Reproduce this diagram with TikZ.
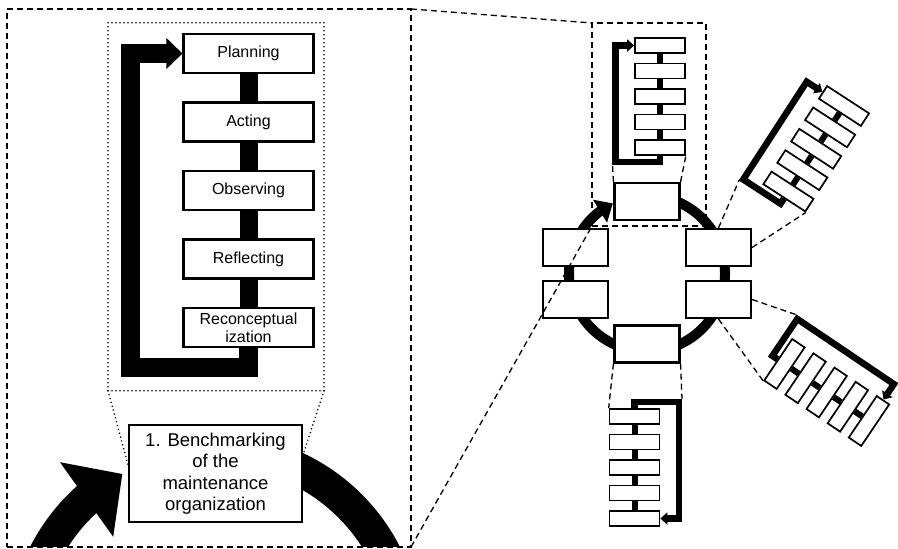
\documentclass[tikz,border=0pt]{standalone}
\usepackage{fontspec}
\setmainfont{Liberation Sans}
\usetikzlibrary{arrows.meta,bending}
\tikzset{
  stepbox/.style={draw, line width=2.1pt, fill=white, minimum width=130pt, minimum height=39pt, inner sep=0pt, align=center, font=\fontsize{16}{18}\selectfont},
  ringbox/.style={draw, line width=2.1pt, fill=white, minimum width=65pt, minimum height=37pt, inner sep=0pt},
  minibox/.style={draw, line width=1.7pt, fill=white, minimum width=50pt, minimum height=15pt, inner sep=0pt, transform shape},
  zoomline/.style={line width=1.3pt, dash pattern=on 6pt off 4pt},
  dotline/.style={line width=1.7pt, dash pattern=on 0pt off 4pt, line cap=round},
  miniflow/.pic={
    \foreach \k in {1,...,5}
      \node[minibox] (-\k) at (0,{-25.5*(\k-1)}) {};
    \foreach \k [count=\j from 2] in {1,...,4}
      \draw[line width=6pt] (-\k.south) -- (-\j.north);
    \coordinate (-fc) at (-47.5,-119.5);
    \draw[line width=6.5pt, -{Triangle[length=7pt,width=12pt]}] (-5.south) -- (0,-116.5) -- (-44.5,-116.5) -- (-44.5,0) -- (-1.west);
  }
}
\begin{document}
\begin{tikzpicture}[x=1pt, y=1pt]
\useasboundingbox (0,0) rectangle (898,549);
% left panel, the zoomed step
\node[draw, zoomline, minimum width=404pt, minimum height=538pt, inner sep=0pt, outer sep=0pt] (panel) at (209,271) {};
\coordinate (bigc) at (215,-92);
\begin{scope}
\clip (7,2) rectangle (411,540);
\draw[line width=33pt] (bigc) ++(90:191) arc[start angle=90, end angle=10, radius=191];
\draw[line width=33pt, -{Triangle[length=44pt,width=89pt]}] (bigc) ++(170:191) arc[start angle=170, end angle=119, radius=191];
\end{scope}
\node[draw, line width=2.1pt, fill=white, minimum width=173pt, minimum height=97pt, inner sep=0pt, align=center, font=\fontsize{18.5}{21.5}\selectfont] (bench) at (215.5,75.5) {1. Benchmarking\\of the\\maintenance\\organization};
\node[draw, dotline, minimum width=216pt, minimum height=368pt, inner sep=0pt, outer sep=0pt] (zoomin) at (216,342.2) {};
\draw[dotline] (zoomin.south west) -- (bench.174);
\draw[dotline] (zoomin.south east) -- (bench.12);
\node[stepbox] (s1) at (248.5,495.5) {Planning};
\node[stepbox] (s2) at (248.5,427) {Acting};
\node[stepbox] (s3) at (248.5,358.5) {Observing};
\node[stepbox] (s4) at (248.5,290) {Reflecting};
\node[stepbox] (s5) at (248.5,221.5) {Reconceptual\\ization};
\draw[line width=18pt] (s1.south) -- (s2.north);
\draw[line width=18pt] (s2.south) -- (s3.north);
\draw[line width=18pt] (s3.south) -- (s4.north);
\draw[line width=18pt] (s4.south) -- (s5.north);
\draw[line width=19pt, -{Triangle[length=16pt,width=30pt]}] (s5.south) -- (248.5,181) -- (130.5,181) -- (130.5,495.5) -- (s1.west);
% right side, the whole cycle
\coordinate (rc) at (647,275.5);
\draw[line width=10pt, -{Triangle[length=15pt,width=26pt]}] (rc) ++(470:78) arc[start angle=470, end angle=116, radius=78];
\node[ringbox] (rt) at (647,347.5) {};
\node[ringbox] (rl1) at (575.5,301.5) {};
\node[ringbox] (rr1) at (718.5,301.5) {};
\node[ringbox] (rl2) at (575.5,249.5) {};
\node[ringbox] (rr2) at (718.5,249.5) {};
\node[ringbox] (rb) at (647,205) {};
\node[draw, zoomline, minimum width=114pt, minimum height=203pt, inner sep=0pt, outer sep=0pt] (topzoom) at (649,424.5) {};
\pic (mt) at (660,503.5) {miniflow};
\pic[rotate=-33] (mr) at (844,443) {miniflow};
\pic[rotate=-124] (mq) at (869,128) {miniflow};
\pic[rotate=180] (mb) at (634.5,30.5) {miniflow};
\draw[zoomline] (rt.north west) -- (mt-fc);
\draw[zoomline] (rt.north east) -- (mt-5.south east);
\draw[zoomline] (rr1.north) -- (mr-fc);
\draw[zoomline] (rr1.east) -- (mr-5.south east);
\draw[zoomline] (rr2.east) -- (mq-fc);
\draw[zoomline] (rr2.south) -- (mq-5.south east);
\draw[zoomline] (rb.south east) -- (mb-fc);
\draw[zoomline] (rb.south west) -- (mb-5.south east);
\draw[zoomline] (panel.north east) -- (topzoom.north west);
\draw[zoomline] (panel.south east) -- (topzoom.south west);
\end{tikzpicture}
\end{document}
